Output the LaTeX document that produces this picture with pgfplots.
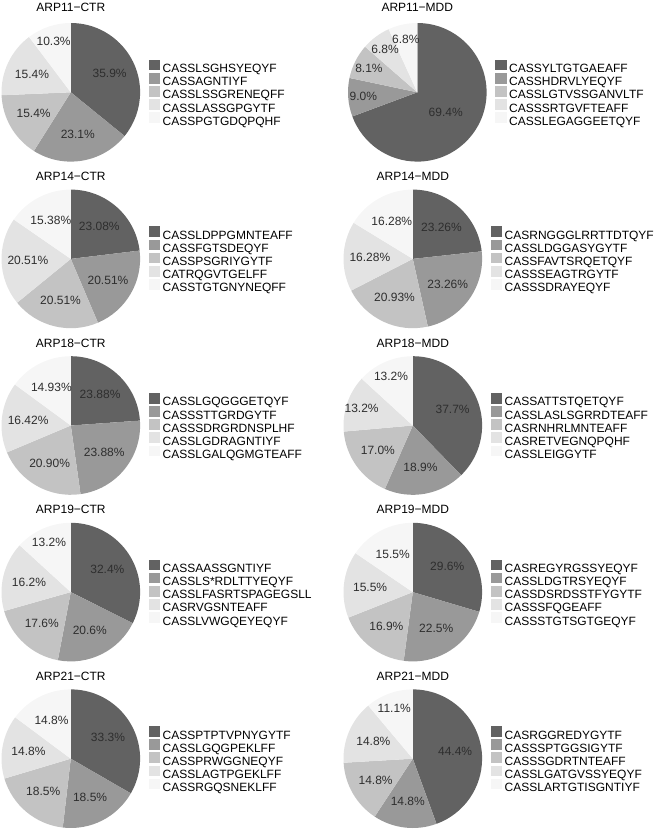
\documentclass[border=0pt]{standalone}
\usepackage{pgfplots}
\pgfplotsset{compat=1.18}
\usepackage{fontspec}
\setmainfont{Liberation Sans}

\definecolor{pc1}{HTML}{626262}
\definecolor{pc2}{HTML}{999999}
\definecolor{pc3}{HTML}{C3C3C3}
\definecolor{pc4}{HTML}{E3E3E3}
\definecolor{pc5}{HTML}{F6F6F6}
\definecolor{labtext}{HTML}{2E2E2E}

\newcommand{\labfont}{\fontsize{12}{12}\selectfont}

% slices clockwise from 12 o'clock, shares in percent
\newcommand{\pieslices}[1]{%
  \gdef\tot{0}%
  \foreach \v in {#1} {\pgfmathparse{\tot+\v}\xdef\tot{\pgfmathresult}}%
  \foreach \v [count=\i, remember=\nxt as \acc (initially 90)] in {#1} {%
    \pgfmathsetmacro\nxt{\acc-\v/\tot*360}%
    \pgfmathsetmacro\xa{cos(\acc)}\pgfmathsetmacro\ya{sin(\acc)}%
    \edef\temp{\noexpand\fill[pc\i] (axis cs:0,0) -- (axis cs:\xa,\ya)
      arc[start angle=\acc, end angle=\nxt, radius=69.3pt] -- cycle;}%
    \temp
  }%
  \foreach \v [count=\i, remember=\nxt as \acc (initially 90)] in {#1} {%
    \pgfmathsetmacro\nxt{\acc-\v/\tot*360}%
    \pgfmathsetmacro\md{(\acc+\nxt)/2}%
    \pgfmathsetmacro\rf{\v>60 ? 0.5 : (\v>=14 ? 0.62 : 0.78)}%
    \pgfmathsetmacro\xl{\rf*cos(\md)}\pgfmathsetmacro\yl{\rf*sin(\md)}%
    \edef\temp{\noexpand\node[font=\noexpand\labfont, text=labtext, inner sep=0pt]
      at (axis cs:\xl,\yl) {\v\noexpand\%};}%
    \temp
  }%
}

\newcommand{\pielegend}[5]{%
  \addlegendimage{fill=pc1}\addlegendentry{#1}
  \addlegendimage{fill=pc2}\addlegendentry{#2}
  \addlegendimage{fill=pc3}\addlegendentry{#3}
  \addlegendimage{fill=pc4}\addlegendentry{#4}
  \addlegendimage{fill=pc5}\addlegendentry{#5}
}

\pgfplotsset{
  pieaxis/.style={
    scale only axis, width=138.6pt, height=138.6pt,
    xmin=-1, xmax=1, ymin=-1, ymax=1,
    hide axis, clip=false, anchor=center,
    title style={at={(0.5,1)}, anchor=center, yshift=7pt,
      font=\fontsize{12}{12}\selectfont, inner sep=0pt},
    legend cell align=left,
    legend style={at={(1.062,0.493)}, anchor=west, draw=none, fill=none,
      inner sep=0pt, outer sep=0pt, row sep=-1.3pt,
      font=\fontsize{12}{12}\selectfont,
      nodes={inner sep=0pt, text height=9pt, text depth=1.5pt},
      /tikz/every odd column/.style={column sep=2.5pt}},
    legend image code/.code={\fill[##1, draw=none] (0pt,-1.5pt) rectangle (11.5pt,9.2pt);},
  }
}

\begin{document}
\begin{tikzpicture}
\path[use as bounding box] (0,0) rectangle (658pt,-830pt);

% row 1
\begin{axis}[pieaxis, at={(70.8pt,-92.3pt)}, title={ARP11−CTR}, title style={yshift=2.5pt}]
  \pieslices{35.9,23.1,15.4,15.4,10.3}
  \pielegend{CASSLSGHSYEQYF}{CASSAGNTIYF}{CASSLSSGRENEQFF}{CASSLASSGPGYTF}{CASSPGTGDQPQHF}
\end{axis}
\begin{axis}[pieaxis, at={(417.3pt,-92.3pt)}, title={ARP11−MDD}, title style={yshift=2.5pt}]
  \pieslices{69.4,9.0,8.1,6.8,6.8}
  \pielegend{CASSYLTGTGAEAFF}{CASSHDRVLYEQYF}{CASSLGTVSSGANVLTF}{CASSSRTGVFTEAFF}{CASSLEGAGGEETQYF}
\end{axis}

% row 2
\begin{axis}[pieaxis, at={(70.8pt,-258.9pt)}, title={ARP14−CTR}]
  \pieslices{23.08,20.51,20.51,20.51,15.38}
  \pielegend{CASSLDPPGMNTEAFF}{CASSFGTSDEQYF}{CASSPSGRIYGYTF}{CATRQGVTGELFF}{CASSTGTGNYNEQFF}
\end{axis}
\begin{axis}[pieaxis, at={(412.8pt,-258.9pt)}, title={ARP14−MDD}]
  \pieslices{23.26,23.26,20.93,16.28,16.28}
  \pielegend{CASRNGGGLRRTTDTQYF}{CASSLDGGASYGYTF}{CASSFAVTSRQETQYF}{CASSSEAGTRGYTF}{CASSSDRAYEQYF}
\end{axis}

% row 3
\begin{axis}[pieaxis, at={(70.8pt,-425.5pt)}, title={ARP18−CTR}]
  \pieslices{23.88,23.88,20.90,16.42,14.93}
  \pielegend{CASSLGQGGGETQYF}{CASSSTTGRDGYTF}{CASSSDRGRDNSPLHF}{CASSLGDRAGNTIYF}{CASSLGALQGMGTEAFF}
\end{axis}
\begin{axis}[pieaxis, at={(412.8pt,-425.5pt)}, title={ARP18−MDD}]
  \pieslices{37.7,18.9,17.0,13.2,13.2}
  \pielegend{CASSATTSTQETQYF}{CASSLASLSGRRDTEAFF}{CASRNHRLMNTEAFF}{CASRETVEGNQPQHF}{CASSLEIGGYTF}
\end{axis}

% row 4
\begin{axis}[pieaxis, at={(70.8pt,-592.1pt)}, title={ARP19−CTR}]
  \pieslices{32.4,20.6,17.6,16.2,13.2}
  \pielegend{CASSAASSGNTIYF}{CASSLS*RDLTTYEQYF}{CASSLFASRTSPAGEGSLL}{CASRVGSNTEAFF}{CASSLVWGQEYEQYF}
\end{axis}
\begin{axis}[pieaxis, at={(412.8pt,-592.1pt)}, title={ARP19−MDD}]
  \pieslices{29.6,22.5,16.9,15.5,15.5}
  \pielegend{CASREGYRGSSYEQYF}{CASSLDGTRSYEQYF}{CASSDSRDSSTFYGYTF}{CASSSFQGEAFF}{CASSSTGTSGTGEQYF}
\end{axis}

% row 5
\begin{axis}[pieaxis, at={(70.8pt,-758.7pt)}, title={ARP21−CTR}]
  \pieslices{33.3,18.5,18.5,14.8,14.8}
  \pielegend{CASSPTPTVPNYGYTF}{CASSLGQGPEKLFF}{CASSPRWGGNEQYF}{CASSLAGTPGEKLFF}{CASSRGQSNEKLFF}
\end{axis}
\begin{axis}[pieaxis, at={(412.8pt,-758.7pt)}, title={ARP21−MDD}]
  \pieslices{44.4,14.8,14.8,14.8,11.1}
  \pielegend{CASRGGREDYGYTF}{CASSSPTGGSIGYTF}{CASSSGDRTNTEAFF}{CASSLGATGVSSYEQYF}{CASSLARTGTISGNTIYF}
\end{axis}
\end{tikzpicture}
\end{document}
